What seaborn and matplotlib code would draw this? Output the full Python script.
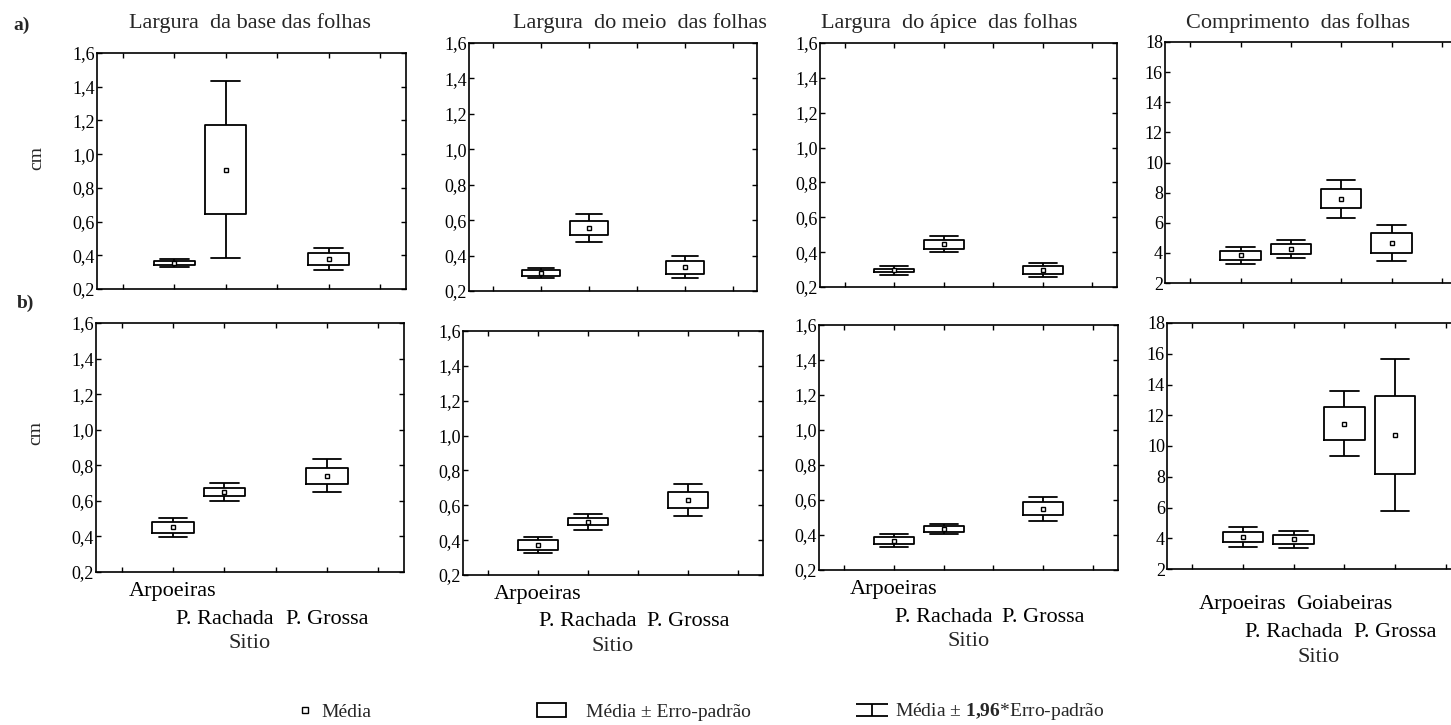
import numpy as np
import pandas as pd
import matplotlib
matplotlib.use("Agg")
import matplotlib.pyplot as plt
from matplotlib.lines import Line2D
from matplotlib.patches import Patch
from matplotlib.path import Path
import seaborn as sns

sites = ["Arpoeiras", "P. Rachada", "Goiabeiras", "P. Grossa"]

# a) valores: media, erro-padrao, 1,96*erro-padrao
base_a_mean = [0.355, 0.908, np.nan, 0.380]
base_a_se = [0.013, 0.265, np.nan, 0.036]
base_a_ci = [0.024, 0.523, np.nan, 0.065]

meio_a_mean = [0.302, 0.555, np.nan, 0.333]
meio_a_se = [0.016, 0.041, np.nan, 0.036]
meio_a_ci = [0.030, 0.080, np.nan, 0.062]

apice_a_mean = [0.296, 0.444, np.nan, 0.298]
apice_a_se = [0.010, 0.026, np.nan, 0.021]
apice_a_ci = [0.025, 0.046, np.nan, 0.040]

comp_a_mean = [3.84, 4.25, 7.60, 4.64]
comp_a_se = [0.29, 0.35, 0.64, 0.65]
comp_a_ci = [0.57, 0.58, 1.26, 1.20]

# b)
base_b_mean = [0.452, 0.651, np.nan, 0.740]
base_b_se = [0.031, 0.024, np.nan, 0.046]
base_b_ci = [0.053, 0.050, np.nan, 0.093]

meio_b_mean = [0.373, 0.506, np.nan, 0.631]
meio_b_se = [0.027, 0.021, np.nan, 0.045]
meio_b_ci = [0.045, 0.045, np.nan, 0.094]

apice_b_mean = [0.368, 0.433, np.nan, 0.550]
apice_b_se = [0.021, 0.016, np.nan, 0.036]
apice_b_ci = [0.038, 0.030, np.nan, 0.070]

comp_b_mean = [4.09, 3.93, 11.45, 10.72]
comp_b_se = [0.33, 0.30, 1.06, 2.52]
comp_b_ci = [0.67, 0.57, 2.12, 4.92]

titles = ["Largura  da base das folhas", "Largura  do meio  das folhas",
          "Largura  do ápice  das folhas", "Comprimento  das folhas"]
width_ticks = [0.2, 0.4, 0.6, 0.8, 1.0, 1.2, 1.4, 1.6]
comp_ticks = [2, 4, 6, 8, 10, 12, 14, 16, 18]

W, H = 1451, 725

sns.set_theme(style="white")
plt.rcParams["font.family"] = ["Liberation Serif", "DejaVu Serif"]
plt.rcParams["mathtext.fontset"] = "custom"
plt.rcParams["mathtext.rm"] = "Liberation Serif"
plt.rcParams["mathtext.bf"] = "Liberation Serif:bold"


def long_table(mean, se, ci):
    rows = []
    for s, m, e, c in zip(sites, mean, se, ci):
        if np.isnan(m):
            continue
        for v in (m - c, m - e, m, m + e, m + c):
            rows.append({"sitio": s, "cm": v})
    return pd.DataFrame(rows)


def px_rect(l, t, r, b):
    return [l / W, 1 - b / H, (r - l) / W, (b - t) / H]


def draw_panel(ax, mean, se, ci, ticks):
    df = long_table(mean, se, ci)
    sns.boxplot(data=df, x="sitio", y="cm", order=sites, whis=(0, 100),
                width=0.8, fill=False, color="black", linewidth=1.3,
                capwidths=0.56, medianprops={"visible": False},
                showfliers=False, ax=ax)
    means = pd.DataFrame({"sitio": sites, "media": mean}).dropna()
    sns.pointplot(data=means, x="sitio", y="media", order=sites,
                  errorbar=None, linestyle="none", marker="s", markersize=3.5,
                  color="black", markerfacecolor="white",
                  markeredgewidth=1.0, ax=ax)
    ax.set_xlim(-1.5, 4.5)
    # rotulos em duas linhas: posicoes 0 e 2 na primeira, 1 e 3 na segunda
    ax.set_xticks([-1, 0, 2, 4])
    ax.set_xticks([1, 3], minor=True)
    ax.set_xticklabels([""] * 4)
    ax.set_xticklabels([""] * 2, minor=True)
    ax.set_ylim(ticks[0], ticks[-1])
    ax.set_yticks(ticks)
    if isinstance(ticks[0], float):
        ax.set_yticklabels([f"{t:.1f}".replace(".", ",") for t in ticks])
    else:
        ax.set_yticklabels([str(t) for t in ticks])
    ax.tick_params(axis="both", which="both", direction="in", top=True, right=True,
                   bottom=True, left=True, length=3.5, width=1, colors="black")
    ax.tick_params(axis="y", labelsize=13, pad=1.5)
    for sp in ax.spines.values():
        sp.set_visible(True)
        sp.set_linewidth(1.2)
        sp.set_color("black")
    ax.set_xlabel("")
    ax.set_ylabel("")


fig = plt.figure(figsize=(W / 100, H / 100), dpi=100)
fig.patch.set_facecolor("white")

top_rects = [(97, 53, 406, 289), (469, 43, 757, 291), (820, 43, 1117, 287), (1165, 42, 1467, 283)]
bot_rects = [(96, 323, 404, 572), (463, 331, 763, 575), (819, 325, 1118, 570), (1167, 323, 1471, 569)]
title_x = [250, 640, 949, 1298]

top_data = [(base_a_mean, base_a_se, base_a_ci), (meio_a_mean, meio_a_se, meio_a_ci),
            (apice_a_mean, apice_a_se, apice_a_ci), (comp_a_mean, comp_a_se, comp_a_ci)]
bot_data = [(base_b_mean, base_b_se, base_b_ci), (meio_b_mean, meio_b_se, meio_b_ci),
            (apice_b_mean, apice_b_se, apice_b_ci), (comp_b_mean, comp_b_se, comp_b_ci)]

for i in range(4):
    ticks = comp_ticks if i == 3 else width_ticks
    # linha a)
    ax = fig.add_axes(px_rect(*top_rects[i]))
    draw_panel(ax, *top_data[i], ticks)
    fig.text(title_x[i] / W, 1 - 23 / H, titles[i], ha="center", va="center", fontsize=16)
    if i == 0:
        ax.set_ylabel("cm", fontsize=14)
        ax.yaxis.set_label_coords(-0.167, 0.555)

    # linha b)
    ax = fig.add_axes(px_rect(*bot_rects[i]))
    draw_panel(ax, *bot_data[i], ticks)
    goia = "Goiabeiras" if i == 3 else ""
    ax.set_xticklabels(["", sites[0], goia, ""])
    ax.set_xticklabels([sites[1], sites[3]], minor=True)
    pad1 = 19 if i == 3 else 7
    ax.tick_params(axis="x", which="major", labelsize=16, pad=pad1)
    ax.tick_params(axis="x", which="minor", labelsize=16, pad=pad1 + 20)
    ax.set_xlabel("Sitio", fontsize=16, labelpad=4)
    if i == 0:
        ax.set_ylabel("cm", fontsize=14)
        ax.yaxis.set_label_coords(-0.167, 0.56)

fig.text(22 / W, 1 - 25 / H, "a)", fontsize=14, fontweight="bold", ha="center", va="center")
fig.text(25 / W, 1 - 303 / H, "b)", fontsize=14, fontweight="bold", ha="center", va="center")

# legenda
ibeam = Path([(-1, 0.4), (1, 0.4), (0, 0.4), (0, -0.4), (-1, -0.4), (1, -0.4)],
             [Path.MOVETO, Path.LINETO, Path.MOVETO, Path.LINETO, Path.MOVETO, Path.LINETO])
h_mean = Line2D([], [], linestyle="none", marker="s", markersize=4,
                markerfacecolor="white", markeredgecolor="black", markeredgewidth=1.0)
h_box = Patch(facecolor="white", edgecolor="black", linewidth=1.3)
h_ci = Line2D([], [], linestyle="none", marker=ibeam, markersize=23,
              markerfacecolor="none", markeredgecolor="black", markeredgewidth=1.3)

leg_y = 1 - 712 / H
common = dict(loc="center left", frameon=False, fontsize=14, borderpad=0, borderaxespad=0)
fig.legend(handles=[h_mean], labels=["Média"], bbox_to_anchor=(295 / W, leg_y),
           handlelength=1.0, handletextpad=0.35, **common)
fig.legend(handles=[h_box], labels=["Média ± Erro-padrão"], bbox_to_anchor=(537 / W, leg_y),
           handlelength=1.5, handleheight=0.7, handletextpad=1.0, **common)
fig.legend(handles=[h_ci], labels=["Média ± $\\mathbf{1{,}96}$*Erro-padrão"],
           bbox_to_anchor=(856 / W, leg_y), handlelength=1.65, handletextpad=0.35, **common)

fig.savefig("out.png", dpi=100, facecolor="white")
